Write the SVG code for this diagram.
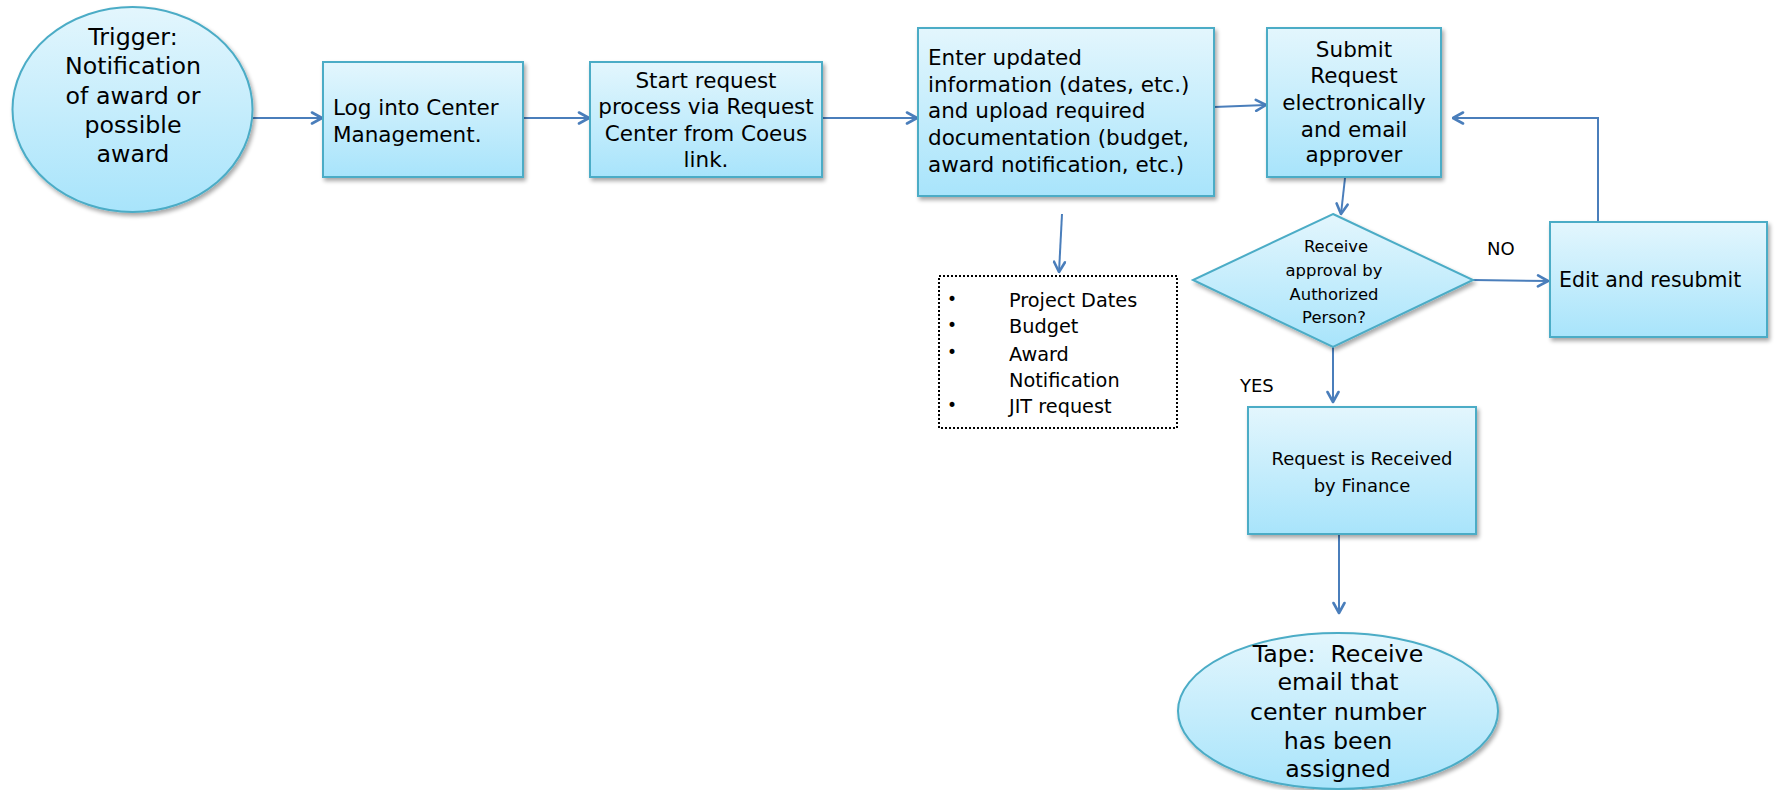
<svg xmlns="http://www.w3.org/2000/svg" width="1775" height="790" viewBox="0 0 1775 790">
  <defs>
    <linearGradient id="fillGrad" x1="0" y1="0" x2="0" y2="1">
      <stop offset="0" stop-color="#e3f6fd"/>
      <stop offset="1" stop-color="#a8e4fb"/>
    </linearGradient>
    <filter id="shadow" x="-10%" y="-10%" width="125%" height="130%">
      <feGaussianBlur in="SourceAlpha" stdDeviation="2"/>
      <feOffset dx="2" dy="3" result="b"/>
      <feComponentTransfer><feFuncA type="linear" slope="0.35"/></feComponentTransfer>
      <feMerge><feMergeNode/><feMergeNode in="SourceGraphic"/></feMerge>
    </filter>
    <marker id="arrow" viewBox="0 0 14 14" refX="12.5" refY="7" markerWidth="14" markerHeight="14" markerUnits="userSpaceOnUse" orient="auto">
      <path d="M2.5,1.5 L12.5,7 L2.5,12.5" fill="none" stroke="#4a7ebb" stroke-width="2.6" stroke-linecap="round" stroke-linejoin="round"/>
    </marker>
  </defs>
  <style>
    .shape { fill: url(#fillGrad); stroke: #4bacc6; stroke-width: 2; filter: url(#shadow); }
    .conn { fill: none; stroke: #4a7ebb; stroke-width: 2; marker-end: url(#arrow); }
    text { font-family: "DejaVu Sans", "Liberation Sans", sans-serif; fill: #000; }
    .c { text-anchor: middle; }
    .big { font-size: 23.7px; text-anchor: middle; }
    .mid { font-size: 21.5px; }
    .list { font-size: 19.3px; }
    .lbl { font-size: 18px; }
  </style>

  <rect width="1775" height="790" fill="#ffffff"/>

  <!-- connectors -->
  <g id="connectors">
    <path class="conn" d="M253,118 L322,118"/>
    <path class="conn" d="M523,118 L589,118"/>
    <path class="conn" d="M822,118 L917,118"/>
    <path class="conn" d="M1214,107 L1266,105"/>
    <path class="conn" d="M1062,214 L1059,272"/>
    <path class="conn" d="M1345,178 L1341,214"/>
    <path class="conn" d="M1473,280 L1548,281"/>
    <path class="conn" d="M1598,222 L1598,118 L1453,118"/>
    <path class="conn" d="M1333,347 L1333,402"/>
    <path class="conn" d="M1339,534 L1339,613"/>
  </g>

  <!-- start event -->
  <g id="trigger">
    <ellipse class="shape" cx="132.5" cy="109.5" rx="120" ry="102.5"/>
    <text class="big" x="133" y="45">Trigger:</text>
    <text class="big" x="133" y="74">Notification</text>
    <text class="big" x="133" y="104">of award or</text>
    <text class="big" x="133" y="133">possible</text>
    <text class="big" x="133" y="162">award</text>
  </g>

  <g id="login">
    <rect class="shape" x="323" y="62" width="200" height="115"/>
    <text class="mid" x="333" y="115">Log into Center</text>
    <text class="mid" x="333" y="142">Management.</text>
  </g>

  <g id="start-request">
    <rect class="shape" x="590" y="62" width="232" height="115"/>
    <text class="mid c" x="706" y="88">Start request</text>
    <text class="mid c" x="706" y="114">process via Request</text>
    <text class="mid c" x="706" y="141">Center from Coeus</text>
    <text class="mid c" x="706" y="167">link.</text>
  </g>

  <g id="enter-info">
    <rect class="shape" x="918" y="28" width="296" height="168"/>
    <text class="mid" x="928" y="65">Enter updated</text>
    <text class="mid" x="928" y="92">information (dates, etc.)</text>
    <text class="mid" x="928" y="118">and upload required</text>
    <text class="mid" x="928" y="145">documentation (budget,</text>
    <text class="mid" x="928" y="172">award notification, etc.)</text>
  </g>

  <g id="submit">
    <rect class="shape" x="1267" y="28" width="174" height="149"/>
    <text class="mid c" x="1354" y="57">Submit</text>
    <text class="mid c" x="1354" y="83">Request</text>
    <text class="mid c" x="1354" y="110">electronically</text>
    <text class="mid c" x="1354" y="137">and email</text>
    <text class="mid c" x="1354" y="162">approver</text>
  </g>

  <g id="approval">
    <polygon class="shape" points="1333,214 1473,280 1333,347 1193,280"/>
    <text class="c" font-size="16.4" x="1336" y="252">Receive</text>
    <text class="c" font-size="16.4" x="1334" y="276">approval by</text>
    <text class="c" font-size="16.4" x="1334" y="300">Authorized</text>
    <text class="c" font-size="16.4" x="1334" y="323">Person?</text>
  </g>

  <g id="edit-resubmit">
    <rect class="shape" x="1550" y="222" width="217" height="115"/>
    <text font-size="20.5" x="1559" y="287">Edit and resubmit</text>
  </g>

  <g id="received">
    <rect class="shape" x="1248" y="407" width="228" height="127"/>
    <text class="c" font-size="18" x="1362" y="465">Request is Received</text>
    <text class="c" font-size="18" x="1362" y="492">by Finance</text>
  </g>

  <g id="tape">
    <ellipse class="shape" cx="1338" cy="711" rx="160" ry="78"/>
    <text class="big" x="1338" y="662" xml:space="preserve">Tape:  Receive</text>
    <text class="big" x="1338" y="690">email that</text>
    <text class="big" x="1338" y="720">center number</text>
    <text class="big" x="1338" y="749">has been</text>
    <text class="big" x="1338" y="777">assigned</text>
  </g>

  <!-- required documents list -->
  <g id="documents">
    <rect x="939" y="276" width="238" height="152" fill="#ffffff" stroke="#000" stroke-width="2" stroke-dasharray="2,2"/>
    <text x="947" y="305" font-size="17">•</text>
    <text x="947" y="331" font-size="17">•</text>
    <text x="947" y="358" font-size="17">•</text>
    <text x="947" y="411" font-size="17">•</text>
    <text class="list" x="1009" y="307">Project Dates</text>
    <text class="list" x="1009" y="333">Budget</text>
    <text class="list" x="1009" y="361">Award</text>
    <text class="list" x="1009" y="387">Notification</text>
    <text class="list" x="1009" y="413">JIT request</text>
  </g>

  <!-- branch labels -->
  <g id="labels">
    <text class="lbl" x="1487" y="255">NO</text>
    <text class="lbl" x="1240" y="392">YES</text>
  </g>
</svg>
